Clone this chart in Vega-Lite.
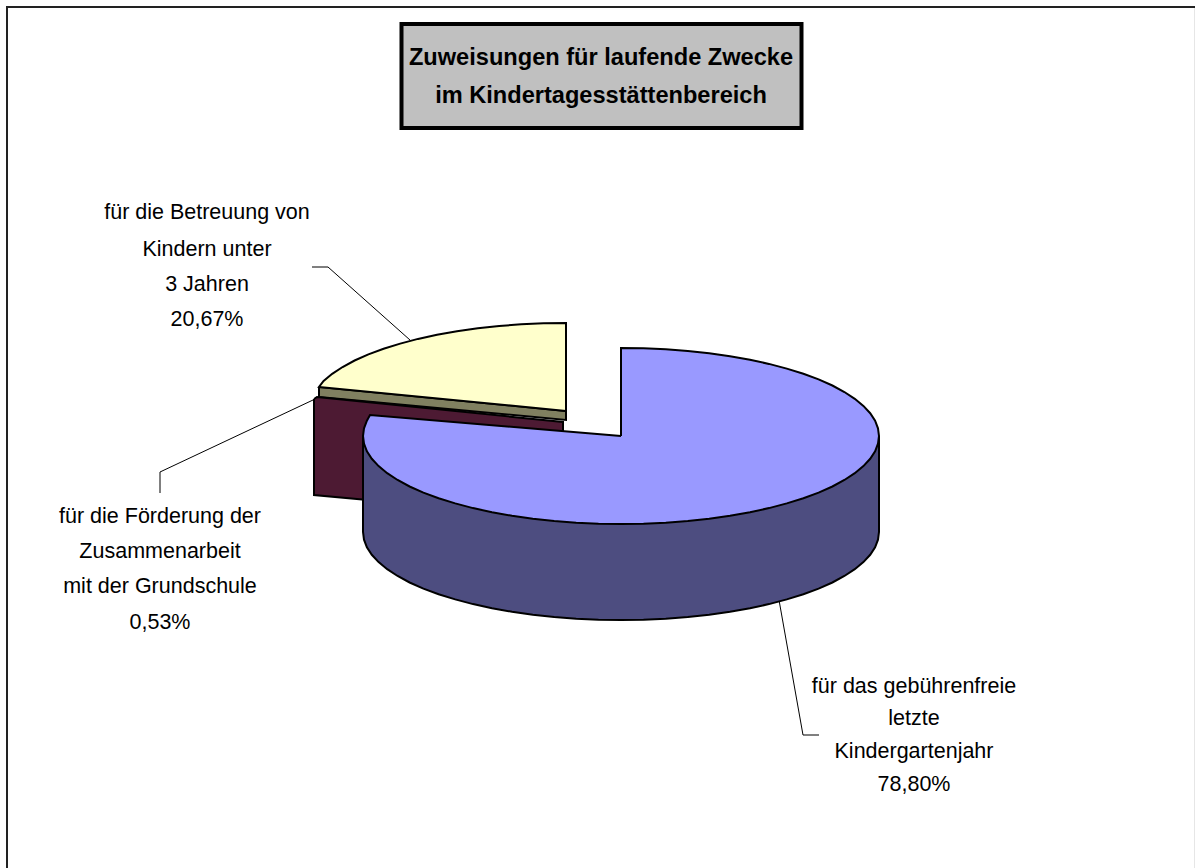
{"$schema":"https://vega.github.io/schema/vega-lite/v6.json","autosize":{"type":"none"},"width":1195,"height":868,"padding":0,"background":"white","config":{"view":{"stroke":null}},
"datasets":{
"frame":[{"x":7,"y":868},{"x":7,"y":7},{"x":1195,"y":7}],
"edge":[{"x":1194.5,"y":8},{"x":1194.5,"y":868}],
"box":[{"x":401.5,"x2":801.5,"y":24,"y2":128}],
"titleLines":[{"line":"Zuweisungen für laufende Zwecke","x":601,"y":58},{"line":"im Kindertagesstättenbereich","x":601,"y":96}],
"labels":[
{"line":"für die Betreuung von","x":207,"y":213},{"line":"Kindern unter","x":207,"y":250},{"line":"3 Jahren","x":207,"y":285},{"line":"20,67%","x":207,"y":320},
{"line":"für die Förderung der","x":160,"y":517},{"line":"Zusammenarbeit","x":160,"y":552},{"line":"mit der Grundschule","x":160,"y":587},{"line":"0,53%","x":160,"y":623},
{"line":"für das gebührenfreie","x":914,"y":687},{"line":"letzte","x":914,"y":719},{"line":"Kindergartenjahr","x":914,"y":752},{"line":"78,80%","x":914,"y":785}],
"leaders":[
{"part":"yellow","x":312,"y":267},{"part":"yellow","x":328,"y":267},{"part":"yellow","x":410,"y":340},
{"part":"maroon","x":313,"y":400},{"part":"maroon","x":160,"y":472},{"part":"maroon","x":160,"y":493},
{"part":"blue","x":779,"y":600},{"part":"blue","x":803,"y":735},{"part":"blue","x":819,"y":735}],
"olive":[{"x":319,"y":387},{"x":566,"y":411},{"x":566,"y":420},{"x":319,"y":397},{"x":319,"y":387}],
"yellow":[{"x":566,"y":411},{"x":566,"y":323},{"x":543.5,"y":323.3},{"x":521.2,"y":324.3},{"x":499.2,"y":326},{"x":477.8,"y":328.3},{"x":457,"y":331.2},{"x":437,"y":334.8},{"x":418,"y":338.9},{"x":400.2,"y":343.6},{"x":383.6,"y":348.8},{"x":368.4,"y":354.4},{"x":354.6,"y":360.5},{"x":342.6,"y":367},{"x":332.2,"y":373.8},{"x":323.6,"y":380.9},{"x":319,"y":387},{"x":566,"y":411}],
"maroon":[{"x":314,"y":399},{"x":317,"y":397},{"x":563,"y":422},{"x":563,"y":436},{"x":400,"y":503},{"x":314,"y":495},{"x":314,"y":399}],
"wall":[{"x":879,"y":436},{"x":879,"y":532},{"x":878,"y":539.7},{"x":875.1,"y":547.3},{"x":870.2,"y":554.8},{"x":863.4,"y":562.1},{"x":854.8,"y":569.2},{"x":844.4,"y":576},{"x":832.4,"y":582.5},{"x":818.6,"y":588.6},{"x":803.4,"y":594.2},{"x":786.8,"y":599.4},{"x":769,"y":604.1},{"x":750,"y":608.2},{"x":730,"y":611.8},{"x":709.2,"y":614.7},{"x":687.8,"y":617},{"x":665.8,"y":618.7},{"x":643.5,"y":619.7},{"x":621,"y":620},{"x":598.5,"y":619.7},{"x":576.2,"y":618.7},{"x":554.2,"y":617},{"x":532.8,"y":614.7},{"x":512,"y":611.8},{"x":492,"y":608.2},{"x":473,"y":604.1},{"x":455.2,"y":599.4},{"x":438.6,"y":594.2},{"x":423.4,"y":588.6},{"x":409.6,"y":582.5},{"x":397.6,"y":576},{"x":387.2,"y":569.2},{"x":378.6,"y":562.1},{"x":371.8,"y":554.8},{"x":366.9,"y":547.3},{"x":364,"y":539.7},{"x":363,"y":532},{"x":363,"y":436},{"x":879,"y":436}],
"blue":[{"x":621,"y":436},{"x":621,"y":348},{"x":643.5,"y":348.3},{"x":665.8,"y":349.3},{"x":687.8,"y":351},{"x":709.2,"y":353.3},{"x":730,"y":356.2},{"x":750,"y":359.8},{"x":769,"y":363.9},{"x":786.8,"y":368.6},{"x":803.4,"y":373.8},{"x":818.6,"y":379.4},{"x":832.4,"y":385.5},{"x":844.4,"y":392},{"x":854.8,"y":398.8},{"x":863.4,"y":405.9},{"x":870.2,"y":413.2},{"x":875.1,"y":420.7},{"x":878,"y":428.3},{"x":879,"y":436},{"x":878,"y":443.7},{"x":875.1,"y":451.3},{"x":870.2,"y":458.8},{"x":863.4,"y":466.1},{"x":854.8,"y":473.2},{"x":844.4,"y":480},{"x":832.4,"y":486.5},{"x":818.6,"y":492.6},{"x":803.4,"y":498.2},{"x":786.8,"y":503.4},{"x":769,"y":508.1},{"x":750,"y":512.2},{"x":730,"y":515.8},{"x":709.2,"y":518.7},{"x":687.8,"y":521},{"x":665.8,"y":522.7},{"x":643.5,"y":523.7},{"x":621,"y":524},{"x":598.5,"y":523.7},{"x":576.2,"y":522.7},{"x":554.2,"y":521},{"x":532.8,"y":518.7},{"x":512,"y":515.8},{"x":492,"y":512.2},{"x":473,"y":508.1},{"x":455.2,"y":503.4},{"x":438.6,"y":498.2},{"x":423.4,"y":492.6},{"x":409.6,"y":486.5},{"x":397.6,"y":480},{"x":387.2,"y":473.2},{"x":378.6,"y":466.1},{"x":371.8,"y":458.8},{"x":366.9,"y":451.3},{"x":364,"y":443.7},{"x":363,"y":436},{"x":364,"y":428.3},{"x":366.9,"y":420.7},{"x":370,"y":415},{"x":621,"y":436}]
},
"encoding":{
"x":{"field":"x","type":"quantitative","scale":{"domain":[0,1195],"nice":false,"zero":false},"axis":null},
"y":{"field":"y","type":"quantitative","scale":{"domain":[868,0],"nice":false,"zero":false},"axis":null},
"order":{"value":null}},
"layer":[
{"data":{"name":"frame"},"mark":{"type":"line","stroke":"#222222","strokeWidth":2,"strokeCap":"square"}},
{"data":{"name":"edge"},"mark":{"type":"line","stroke":"#e6e6e6","strokeWidth":1}},
{"data":{"name":"box"},"mark":{"type":"rect","fill":"#c0c0c0","stroke":"#000000","strokeWidth":4},"encoding":{"x2":{"field":"x2"},"y2":{"field":"y2"}}},
{"data":{"name":"titleLines"},"mark":{"type":"text","font":"Liberation Sans","fontWeight":"bold","fontSize":23.6,"align":"center","baseline":"middle","color":"#000000"},"encoding":{"text":{"field":"line"}}},
{"data":{"name":"leaders"},"mark":{"type":"line","stroke":"#000000","strokeWidth":1},"encoding":{"detail":{"field":"part"}}},
{"data":{"name":"olive"},"mark":{"type":"line","fill":"#808060","stroke":"#000000","strokeWidth":2}},
{"data":{"name":"yellow"},"mark":{"type":"line","fill":"#ffffcc","stroke":"#000000","strokeWidth":2}},
{"data":{"name":"maroon"},"mark":{"type":"line","fill":"#4d1a33","stroke":"#000000","strokeWidth":2}},
{"data":{"name":"wall"},"mark":{"type":"line","fill":"#4d4d80","stroke":"#000000","strokeWidth":2}},
{"data":{"name":"blue"},"mark":{"type":"line","fill":"#9999ff","stroke":"#000000","strokeWidth":2}},
{"data":{"name":"labels"},"mark":{"type":"text","font":"Liberation Sans","fontSize":21.5,"align":"center","baseline":"middle","color":"#000000"},"encoding":{"text":{"field":"line"}}}
]}
